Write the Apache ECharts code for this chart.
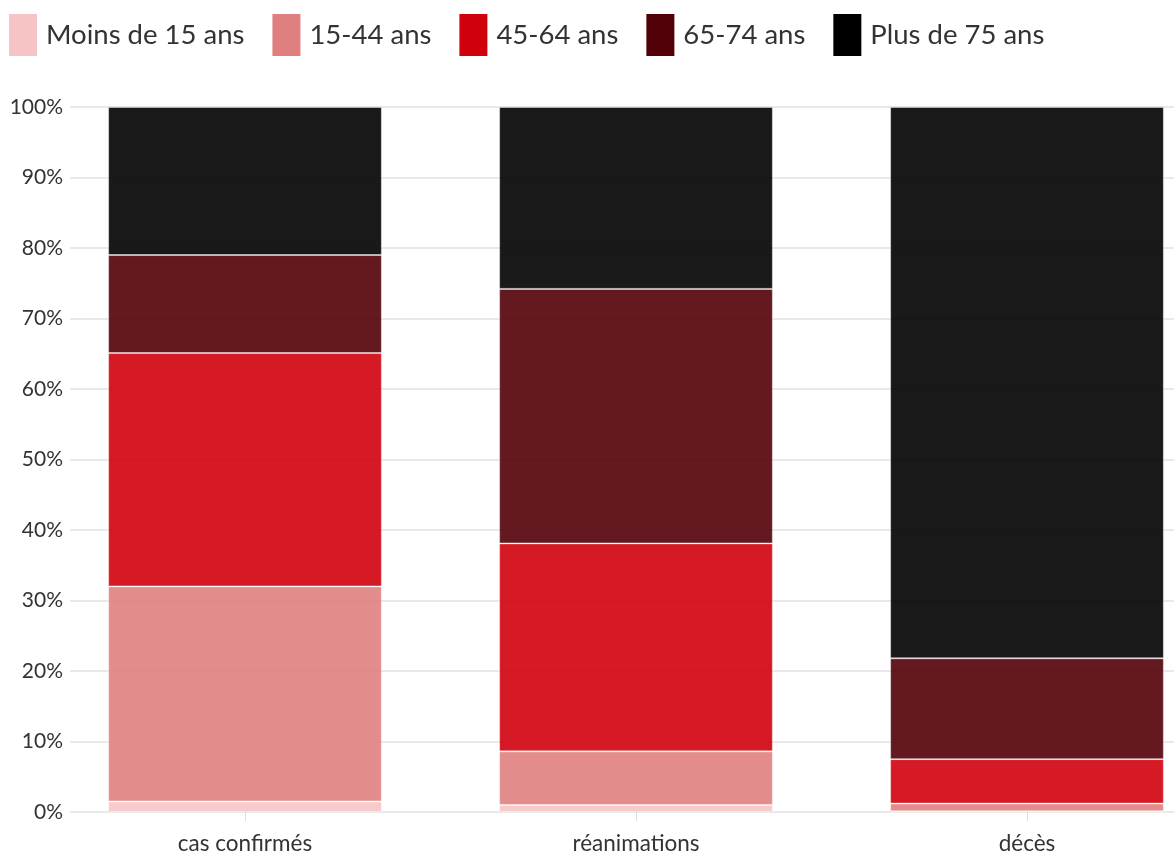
<!DOCTYPE html>
<html>
<head>
<meta charset="utf-8">
<script src="https://cdn.jsdelivr.net/npm/echarts@6/dist/echarts.min.js"></script>
<style>
html, body { margin: 0; padding: 0; width: 100%; height: 100%; background: #fff; }
#chart { width: 1174px; height: 854px; }
</style>
</head>
<body>
<div id="chart"></div>
<script>
// categories and age groups
var categories = ['cas confirmés', 'réanimations', 'décès'];
var ageGroups = ['Moins de 15 ans', '15-44 ans', '45-64 ans', '65-74 ans', 'Plus de 75 ans'];
var colors = ['#f7c4c6', '#e07f80', '#d0000d', '#520007', '#000000'];

// share (%) per category, one array per age group
var moins15 = [1.5, 1.0, 0.1];
var de15a44 = [30.5, 7.6, 1.1];
var de45a64 = [33.1, 29.5, 6.3];
var de65a74 = [13.9, 36.1, 14.3];
var plus75 = [21.0, 25.8, 78.2];

var yTicks = [0, 10, 20, 30, 40, 50, 60, 70, 80, 90, 100];

var seriesValues = [moins15, de15a44, de45a64, de65a74, plus75];
var font = 'Lato, "Noto Sans", sans-serif';

var chart = echarts.init(document.getElementById('chart'));

var series = ageGroups.map(function (name, i) {
  return {
    name: name,
    type: 'bar',
    stack: 'total',
    xAxisIndex: 1,
    yAxisIndex: 1,
    barWidth: '70%',
    data: seriesValues[i],
    itemStyle: {
      color: colors[i],
      opacity: 0.9,
      borderColor: 'rgba(255,255,255,0.4)',
      borderWidth: 1
    },
    emphasis: { disabled: true }
  };
});

var option = {
  animation: false,
  legend: {
    data: ageGroups,
    left: 9,
    top: 14,
    padding: 0,
    itemWidth: 28,
    itemHeight: 42,
    itemGap: 28,
    icon: 'rect',
    itemStyle: { opacity: 1, borderWidth: 0 },
    textStyle: { fontFamily: font, fontSize: 27.5, color: '#333', padding: [0, 0, 0, 4] }
  },
  // grid 0 carries the y axis and gridlines, grid 1 the bars
  // (the original plot is cropped on the right, so grid 1 runs past the edge)
  grid: [
    { left: 70, right: 0, top: 107, bottom: 42, outerBoundsMode: 'none' },
    { left: 49.5, right: -48.5, top: 107, bottom: 42, outerBoundsMode: 'none' }
  ],
  xAxis: [
    { type: 'category', gridIndex: 0, data: categories, show: false },
    {
      type: 'category',
      gridIndex: 1,
      data: categories,
      axisLine: { show: false },
      axisTick: { show: true, alignWithLabel: true, length: 9, lineStyle: { color: '#ddd', width: 1 } },
      axisLabel: { fontFamily: font, fontSize: 22.5, color: '#333', margin: 20 }
    }
  ],
  yAxis: [
    {
      type: 'value',
      gridIndex: 0,
      min: yTicks[0],
      max: yTicks[yTicks.length - 1],
      interval: 10,
      axisLine: { show: false },
      axisTick: { show: false },
      splitLine: { lineStyle: { color: '#e9e9e9', width: 2 } },
      axisLabel: { formatter: '{value}%', fontFamily: font, fontSize: 21, color: '#333', margin: 7 }
    },
    { type: 'value', gridIndex: 1, min: 0, max: 100, show: false }
  ],
  series: series
};

chart.setOption(option);
</script>
</body>
</html>
